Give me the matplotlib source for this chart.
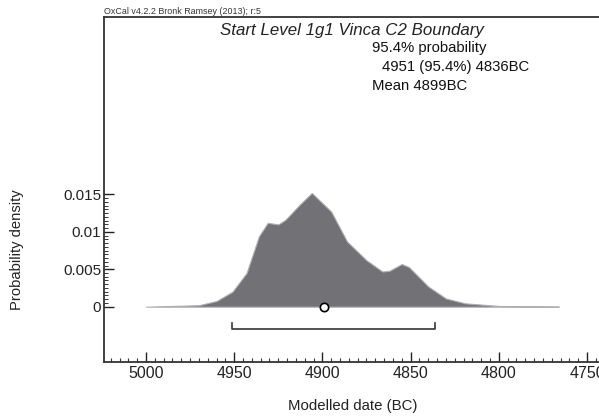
import matplotlib
matplotlib.use("Agg")
import matplotlib.pyplot as plt
import numpy as np
from matplotlib.ticker import MultipleLocator, FixedLocator

plt.rcParams['font.family'] = ['Liberation Sans', 'DejaVu Sans']

# posterior density
years = [5000, 4970, 4960, 4951, 4943, 4936, 4931, 4925, 4921, 4913, 4906,
         4895, 4886, 4875, 4866, 4862, 4855, 4851, 4840, 4830, 4819, 4800, 4766]
density = [0.0, 0.0002, 0.00076, 0.002, 0.0045, 0.0094, 0.0112, 0.011, 0.0116,
           0.0136, 0.0152, 0.0127, 0.0087, 0.0062, 0.0047, 0.0048, 0.0057,
           0.0053, 0.0027, 0.0011, 0.00045, 0.0001, 0.0]

range_from, range_to = 4951, 4836
mean_year = 4899
title = "Start Level 1g1 Vinca C2 Boundary"
ytick_vals = [0, 0.005, 0.01, 0.015]
ytick_labels = ["0", "0.005", "0.01", "0.015"]
xtick_vals = [5000, 4950, 4900, 4850, 4800, 4750]

W, H = 599, 416
fig = plt.figure(figsize=(W / 100, H / 100), dpi=100)
left, right, top, bottom = 104, 599, 17, 361.7
ax = fig.add_axes([left / W, 1 - bottom / H, (right - left) / W, (bottom - top) / H])

ax.fill_between(years, density, 0, color="#727276", edgecolor="#b0b0b4", linewidth=0.8)
ax.plot([range_from, range_from, range_to, range_to], [-0.0022, -0.003, -0.003, -0.0022],
        color="#333333", lw=1.2)
ax.plot([mean_year], [0], "o", ms=6, mfc="white", mec="black", mew=1.2, zorder=5)

ax.set_xlim(5023.8, 4743.2)
ax.set_ylim(-0.00735, 0.0387)

ax.xaxis.set_major_locator(FixedLocator(xtick_vals))
ax.xaxis.set_minor_locator(MultipleLocator(5))
ax.yaxis.set_major_locator(FixedLocator(ytick_vals))
ax.set_yticklabels(ytick_labels)
# minor y ticks only across the labelled range
ax.yaxis.set_minor_locator(FixedLocator(np.arange(0, 0.01501, 0.0005)))

ax.tick_params(axis="x", which="major", direction="in", length=7, width=1, labelsize=11.5,
               colors="#222222", pad=3)
ax.tick_params(axis="x", which="minor", direction="in", length=3, width=0.8, colors="#333333")
ax.tick_params(axis="y", which="major", direction="in", length=7, width=1, labelsize=11,
               colors="#222222", pad=2)
ax.tick_params(axis="y", which="minor", direction="in", length=3, width=0.7, colors="#333333")

for s in ["left", "bottom", "top"]:
    ax.spines[s].set_color("#333333")
    ax.spines[s].set_linewidth(1.3)
ax.spines["right"].set_visible(False)

fig.text(353 / W, 1 - 406 / H, "Modelled date (BC)", fontsize=10.8, color="#222222",
         ha="center", va="center")
fig.text(17 / W, 1 - 250 / H, "Probability density", fontsize=10.6, color="#222222",
         ha="center", va="center", rotation=90)

fig.text(104 / W, 1 - 12 / H, "OxCal v4.2.2 Bronk Ramsey (2013); r:5", fontsize=6.4,
         color="#333333", va="center", ha="left")
fig.text(352 / W, 1 - 30 / H, title, fontsize=12.2, style="italic", color="#222222",
         va="center", ha="center")
fig.text(372 / W, 1 - 48 / H, "95.4% probability", fontsize=10.7, color="#111111", va="center")
fig.text(382 / W, 1 - 67 / H, "4951 (95.4%) 4836BC", fontsize=10.7, color="#111111", va="center")
fig.text(372 / W, 1 - 86 / H, "Mean 4899BC", fontsize=10.7, color="#111111", va="center")

fig.savefig("out.png", dpi=100)
